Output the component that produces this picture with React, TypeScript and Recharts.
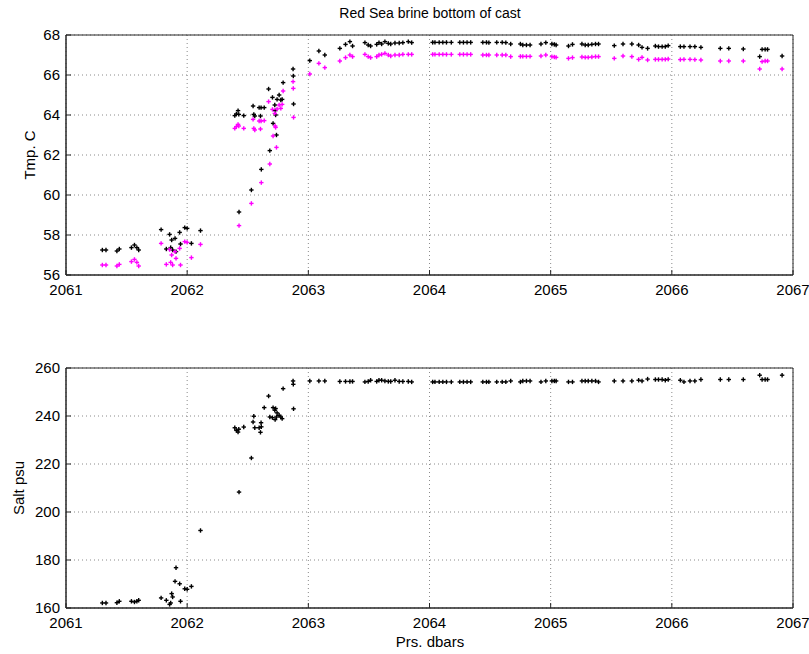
import React from 'react';
import { ScatterChart, Scatter, XAxis, YAxis, CartesianGrid, ReferenceArea } from 'recharts';

// pressure (dbars) of each scan
const prs = [
  2061.3, 2061.33, 2061.42, 2061.44, 2061.54, 2061.565, 2061.585, 2061.6, 2061.785, 2061.828,
  2061.855, 2061.864, 2061.872, 2061.88, 2061.9, 2061.908, 2061.938, 2061.945, 2061.98, 2062.0,
  2062.035, 2062.11, 2062.393, 2062.406, 2062.42, 2062.426, 2062.428, 2062.467, 2062.53, 2062.544,
  2062.55, 2062.558, 2062.594, 2062.605, 2062.61, 2062.612, 2062.636, 2062.672, 2062.682, 2062.704,
  2062.709, 2062.723, 2062.726, 2062.73, 2062.737, 2062.742, 2062.759, 2062.773, 2062.784, 2062.792,
  2062.874, 2062.876, 2062.878, 2063.012, 2063.087, 2063.136, 2063.26, 2063.307, 2063.343, 2063.365,
  2063.467, 2063.494, 2063.514, 2063.564, 2063.583, 2063.605, 2063.632, 2063.66, 2063.68, 2063.715,
  2063.75, 2063.78, 2063.825, 2063.853, 2064.026, 2064.045, 2064.08, 2064.11, 2064.14, 2064.18,
  2064.25, 2064.28, 2064.31, 2064.34, 2064.44, 2064.47, 2064.49, 2064.555, 2064.6, 2064.63,
  2064.67, 2064.75, 2064.77, 2064.8, 2064.83, 2064.92, 2064.96, 2065.01, 2065.03, 2065.045,
  2065.147, 2065.18, 2065.258, 2065.285, 2065.31, 2065.34, 2065.37, 2065.395, 2065.525, 2065.597,
  2065.67, 2065.726, 2065.754, 2065.8, 2065.864, 2065.89, 2065.92, 2065.946, 2065.97, 2066.07,
  2066.1, 2066.15, 2066.19, 2066.24, 2066.4, 2066.47, 2066.59, 2066.725, 2066.745, 2066.77,
  2066.79, 2066.91,
];

// temperature, first sensor (black)
const tmp1 = [
  57.25, 57.25, 57.2, 57.3, 57.37, 57.5, 57.37, 57.25, 58.27, 57.3,
  58.03, 57.37, 57.75, 57.25, 57.83, 57.17, 58.13, 57.55, 58.37, 58.33,
  57.58, 58.22, 63.97, 64.05, 64.22, 64.03, 59.15, 63.97, 60.25, 64.45,
  64.03, 63.95, 64.37, 63.95, 64.37, 61.28, 64.37, 65.3, 62.22, 64.88,
  63.58, 64.5, 64.22, 64.0, 63.0, 64.78, 65.0, 64.75, 64.78, 65.62,
  66.3, 65.95, 64.55, 66.72, 67.2, 67.0, 67.33, 67.53, 67.67, 67.45,
  67.62, 67.5, 67.45, 67.53, 67.62, 67.55, 67.67, 67.58, 67.55, 67.6,
  67.6, 67.62, 67.67, 67.62, 67.63, 67.63, 67.63, 67.63, 67.63, 67.63,
  67.63, 67.63, 67.63, 67.63, 67.63, 67.63, 67.62, 67.63, 67.63, 67.62,
  67.55, 67.55, 67.5, 67.5, 67.5, 67.55, 67.62, 67.55, 67.53, 67.5,
  67.45, 67.53, 67.55, 67.5, 67.5, 67.53, 67.55, 67.55, 67.47, 67.55,
  67.55, 67.5, 67.38, 67.33, 67.45, 67.42, 67.42, 67.42, 67.47, 67.42,
  67.42, 67.42, 67.42, 67.38, 67.33, 67.33, 67.3, 66.92, 67.28, 67.28,
  67.28, 66.95,
];

// temperature, second sensor (magenta)
const tmp2 = [
  56.5, 56.5, 56.45, 56.53, 56.67, 56.78, 56.63, 56.45, 57.58, 56.53,
  57.27, 56.63, 57.0, 56.5, 57.17, 56.83, 57.33, 56.5, 57.67, 57.63,
  56.87, 57.53, 63.33, 63.42, 63.53, 63.45, 58.47, 63.33, 59.58, 63.78,
  63.33, 63.25, 63.7, 63.3, 63.7, 60.62, 63.72, 64.67, 61.55, 64.28,
  62.95, 64.08, 63.45, 63.38, 62.38, 64.3, 64.5, 64.33, 64.53, 65.2,
  65.67, 65.33, 63.88, 66.05, 66.58, 66.37, 66.7, 66.87, 67.0, 66.92,
  67.03, 66.92, 66.87, 66.92, 67.0, 67.03, 67.08, 67.0, 66.95, 67.0,
  67.0, 67.03, 67.03, 67.03, 67.03, 67.03, 67.03, 67.03, 67.03, 67.03,
  67.03, 67.03, 67.03, 67.03, 67.0, 67.0, 67.0, 67.0, 67.0, 67.0,
  66.92, 66.93, 66.93, 66.93, 66.93, 66.95, 67.0, 66.92, 66.9, 66.88,
  66.83, 66.87, 66.9, 66.88, 66.88, 66.9, 66.92, 66.92, 66.83, 66.95,
  66.92, 66.78, 66.88, 66.75, 66.78, 66.78, 66.78, 66.78, 66.8, 66.77,
  66.78, 66.78, 66.77, 66.75, 66.7, 66.7, 66.7, 66.3, 66.67, 66.7,
  66.7, 66.3,
];

// salinity (psu)
const salt = [
  162.1, 162.1, 162.2, 162.8, 162.8, 162.5, 162.8, 163.2, 164.2, 163.2,
  161.5, 162.1, 166.0, 164.6, 171.1, 176.8, 170.1, 162.8, 168.0, 167.8,
  169.0, 192.3, 235.1, 234.0, 233.3, 234.5, 208.3, 235.4, 222.5, 237.5,
  239.9, 235.1, 235.1, 233.2, 237.2, 235.5, 243.5, 248.3, 239.6, 239.3,
  243.5, 242.4, 238.5, 243.1, 239.6, 241.3, 240.3, 239.6, 238.9, 251.4,
  254.6, 253.2, 243.0, 254.6, 254.6, 254.6, 254.4, 254.4, 254.4, 254.4,
  254.2, 254.4, 254.9, 254.4, 254.9, 254.9, 254.6, 254.4, 254.4, 254.9,
  254.4, 254.4, 254.4, 254.2, 254.2, 254.2, 254.2, 254.2, 254.2, 254.2,
  254.2, 254.2, 254.2, 254.2, 254.2, 254.2, 254.2, 254.2, 254.2, 254.2,
  254.6, 254.2, 254.6, 254.6, 254.6, 254.2, 254.6, 254.6, 254.6, 254.6,
  254.2, 254.2, 254.6, 254.6, 254.6, 254.6, 254.6, 254.2, 254.6, 254.6,
  254.6, 254.9, 254.6, 255.4, 255.2, 255.2, 255.2, 254.9, 255.2, 254.9,
  254.2, 254.6, 254.6, 255.2, 255.2, 255.2, 255.2, 257.0, 255.2, 255.2,
  255.2, 257.0,
];

const prsTicks = [2061, 2062, 2063, 2064, 2065, 2066, 2067];
const tmpTicks = [56, 58, 60, 62, 64, 66, 68];
const saltTicks = [160, 180, 200, 220, 240, 260];

const FONT = '"Liberation Sans", Arial, sans-serif';
const tickStyle = { fill: '#000', fontSize: 15, fontFamily: FONT };

const black = prs.map((p, i) => ({ x: p, y: tmp1[i] }));
const magenta = prs.map((p, i) => ({ x: p, y: tmp2[i] }));
const saltPts = prs.map((p, i) => ({ x: p, y: salt[i] }));

// matlab style '+' marker
function Plus(props: any) {
  const { cx, cy, fill } = props;
  if (cx == null || cy == null) return null;
  return (
    <g stroke={fill} strokeWidth={1.4}>
      <line x1={cx - 2.2} y1={cy} x2={cx + 2.2} y2={cy} />
      <line x1={cx} y1={cy - 2.2} x2={cx} y2={cy + 2.2} />
    </g>
  );
}

function Panel(props: {
  height: number;
  top: number;
  bottom: number;
  yTicks: number[];
  series: { data: { x: number; y: number }[]; color: string }[];
}) {
  const { height, top, bottom, yTicks, series } = props;
  const y0 = yTicks[0];
  const y1 = yTicks[yTicks.length - 1];
  return (
    <ScatterChart width={809} height={height} margin={{ top, right: 16, bottom, left: 0 }}>
      <CartesianGrid stroke="#8a8a8a" strokeDasharray="1 3" />
      <XAxis
        type="number"
        dataKey="x"
        domain={[2061, 2067]}
        ticks={prsTicks}
        allowDataOverflow
        height={20}
        axisLine={{ stroke: '#262626' }}
        tickLine={{ stroke: '#262626' }}
        tickSize={-5}
        tickMargin={14}
        tick={tickStyle}
      />
      <YAxis
        type="number"
        dataKey="y"
        domain={[y0, y1]}
        ticks={yTicks}
        allowDataOverflow
        width={66}
        axisLine={{ stroke: '#262626' }}
        tickLine={{ stroke: '#262626' }}
        tickSize={-5}
        tickMargin={11}
        tick={tickStyle}
      />
      <ReferenceArea x1={2061} x2={2067} y1={y0} y2={y1} fill="none" stroke="#262626" strokeOpacity={1} />
      {series.map((s, i) => (
        <Scatter key={i} data={s.data} fill={s.color} shape={Plus} isAnimationActive={false} />
      ))}
    </ScatterChart>
  );
}

const labelStyle: React.CSSProperties = {
  position: 'absolute',
  fontFamily: FONT,
  fontSize: 15,
  color: '#000',
  whiteSpace: 'nowrap',
  transform: 'translate(-50%, -50%)',
};

export default function App() {
  return (
    <div style={{ position: 'absolute', left: 0, top: 0, width: 809, height: 654, background: '#fff' }}>
      <div style={{ position: 'absolute', left: 0, top: 0 }}>
        <Panel
          height={300}
          top={35}
          bottom={5}
          yTicks={tmpTicks}
          series={[
            { data: black, color: '#000000' },
            { data: magenta, color: '#ff00ff' },
          ]}
        />
      </div>
      <div style={{ position: 'absolute', left: 0, top: 330 }}>
        <Panel
          height={324}
          top={38}
          bottom={26}
          yTicks={saltTicks}
          series={[{ data: saltPts, color: '#000000' }]}
        />
      </div>
      <div style={{ ...labelStyle, left: 430, top: 13, fontSize: 14 }}>Red Sea brine bottom of cast</div>
      <div style={{ ...labelStyle, left: 29, top: 155, transform: 'translate(-50%, -50%) rotate(-90deg)' }}>Tmp. C</div>
      <div style={{ ...labelStyle, left: 18, top: 488, transform: 'translate(-50%, -50%) rotate(-90deg)' }}>Salt psu</div>
      <div style={{ ...labelStyle, left: 430, top: 641 }}>Prs. dbars</div>
    </div>
  );
}
